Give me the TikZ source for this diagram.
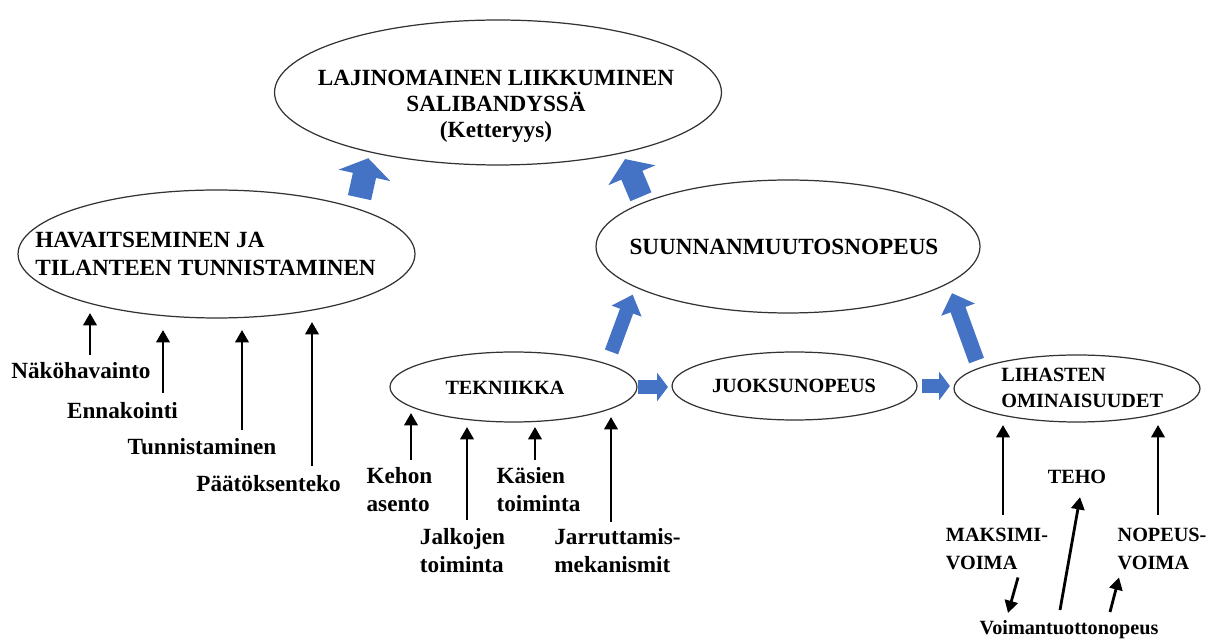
\documentclass[tikz,border=0pt]{standalone}
\usepackage{fontspec}
\setmainfont{Liberation Serif}
\usetikzlibrary{arrows.meta}
\usetikzlibrary{shapes.geometric}

\definecolor{nuolisin}{RGB}{68,114,196}

\tikzset{
  soikio/.style={ellipse, draw=black!80, line width=0.7pt, inner sep=0pt},
  iso/.style={font=\fontsize{13.2}{16}\selectfont\bfseries, inner sep=0pt},
  pieni/.style={font=\fontsize{11.5}{16}\selectfont\bfseries, inner sep=0pt},
  musta/.style={line width=1.6pt, -{Triangle[width=7.5pt,length=7pt]}},
  sininen/.style={draw=nuolisin, -{Triangle[width=0pt 2.2,length=10pt]}}
}

\begin{document}
\begin{tikzpicture}[x=0.02cm, y=-0.02cm]
\useasboundingbox (0,0) rectangle (1216,644);

%% Ellipses %%
\node[soikio, minimum width=8.94cm, minimum height=2.9cm] (lajin) at (498,92.5) {};
\node[soikio, minimum width=7.94cm, minimum height=2.56cm] (havait) at (216.5,254) {};
\node[soikio, minimum width=7.68cm, minimum height=2.66cm] (suunn) at (788,246.5) {};
\node[soikio, minimum width=4.94cm, minimum height=1.4cm] (tekn) at (513.5,387) {};
\node[soikio, minimum width=4.9cm, minimum height=1.36cm] (juoksu) at (794.5,386) {};
\node[soikio, minimum width=4.92cm, minimum height=1.34cm] (lihas) at (1077,388.5) {};

% texts inside %
\node[iso, anchor=north, align=center, font=\fontsize{13.2}{14.8}\selectfont\bfseries] (lajinT) at (496,70)
  {LAJINOMAINEN LIIKKUMINEN\\SALIBANDYSSÄ\\(Ketteryys)};
\node[iso, anchor=west, align=left] (havaitT) at (35,254) {HAVAITSEMINEN JA\\TILANTEEN TUNNISTAMINEN};
\node[iso] (suunnT) at (784,247) {SUUNNANMUUTOSNOPEUS};
\node[pieni] (teknT) at (505,387.5) {TEKNIIKKA};
\node[pieni] (juoksuT) at (794,386) {JUOKSUNOPEUS};
\node[pieni, anchor=west, align=left, font=\fontsize{11.5}{14.7}\selectfont\bfseries] (lihasT) at (1001,388)
  {LIHASTEN\\OMINAISUUDET};

%% Blue arrows %%
\draw[sininen, line width=13.5pt, shorten <=6.2pt, shorten >=3.4pt] (havait.18) -- (lajin.205);
\draw[sininen, line width=13pt, shorten <=3.4pt, shorten >=3.6pt] (suunn.163) -- (lajin.334);
\draw[sininen, line width=8pt, shorten <=7.1pt, shorten >=4.4pt] (tekn.14) -- (suunn.195);
\draw[sininen, line width=9pt, shorten <=4.3pt, shorten >=5.8pt] (lihas.168) -- (suunn.347);

\draw[sininen, line width=8.5pt, -{Triangle[width=0pt 1.9,length=6.2pt]}, shorten >=2pt]
  (tekn.east) -- (tekn.east -| juoksu.west);
\draw[sininen, line width=8.5pt, -{Triangle[width=0pt 1.9,length=6.2pt]}, shorten <=2.5pt, shorten >=2pt]
  (juoksu.east) -- (juoksu.east -| lihas.west);

%% Perception %%
\node[iso, anchor=north] (nako) at (81,362) {Näköhavainto};
\node[iso, anchor=north] (ennak) at (122.5,402) {Ennakointi};
\node[iso, anchor=north] (tunnis) at (202,438) {Tunnistaminen};
\node[iso, anchor=north] (paatos) at (268.5,475) {Päätöksenteko};

\draw[musta] ([shift={(9,-7)}]nako.north) -- ++(0,-42);
\draw[musta] ([shift={(40.5,-9)}]ennak.north) -- ++(0,-63);
\draw[musta] ([shift={(40,-8)}]tunnis.north) -- ++(0,-100);
\draw[musta] ([shift={(43.5,-9)}]paatos.north) -- ++(0,-144);

%% Technique %%
\node[iso, anchor=north, align=left] (kehon) at (399.5,467) {Kehon\\asento};
\node[iso, anchor=north, align=left] (jalka) at (462.5,528) {Jalkojen\\toiminta};
\node[iso, anchor=north, align=left] (kasien) at (538.5,467) {Käsien\\toiminta};
\node[iso, anchor=north, align=left] (jarru) at (617.5,528) {Jarruttamis-\\mekanismit};

\draw[musta] ([shift={(11.5,-7)}]kehon.north) -- ++(0,-47);
\draw[musta] ([shift={(4.5,-8)}]jalka.north) -- ++(0,-93);
\draw[musta] ([shift={(-3.5,-7)}]kasien.north) -- ++(0,-33);
\draw[musta] ([shift={(-6.5,-6)}]jarru.north) -- ++(0,-105);

%% Muscle properties %%
\node[pieni, anchor=north, align=left] (maksimi) at (997,528) {MAKSIMI-\\VOIMA};
\node[pieni, anchor=north, align=left] (nopeus) at (1162,528) {NOPEUS-\\VOIMA};
\node[pieni] (teho) at (1077,477) {TEHO};
\node[pieni, anchor=north] (voiman) at (1069,620) {Voimantuottonopeus};

\draw[musta] ([shift={(6,-13)}]maksimi.north) -- ++(0,-90);
\draw[musta] ([shift={(-4,-13)}]nopeus.north) -- ++(0,-90);
\draw[musta] ([shift={(-9,-10)}]voiman.north) -- ([shift={(3,13)}]teho.south);
\draw[musta] ([shift={(21,7)}]maksimi.south) -- ([shift={(-61,-7)}]voiman.north);
\draw[musta] ([shift={(41,-8)}]voiman.north) -- ([shift={(-43,7)}]nopeus.south);

\end{tikzpicture}
\end{document}
